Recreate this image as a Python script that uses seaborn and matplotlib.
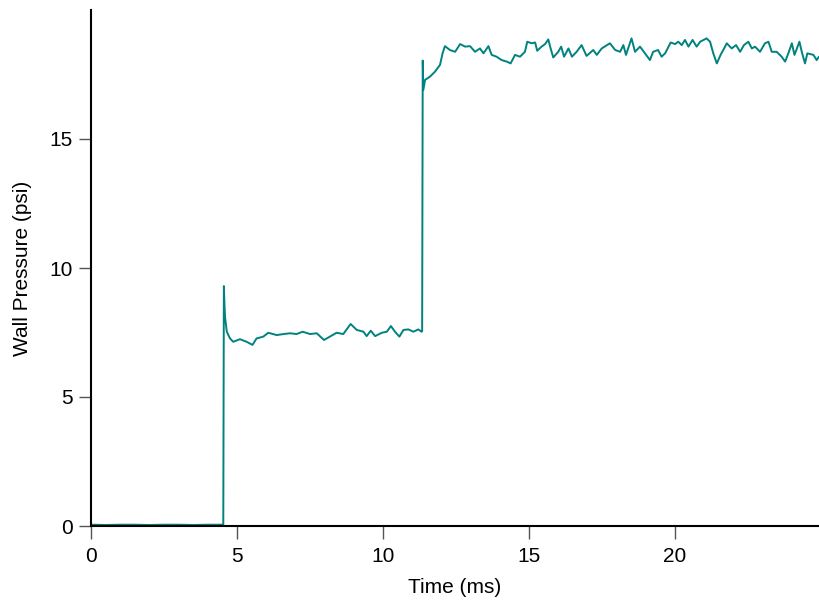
import matplotlib
matplotlib.use("Agg")
import matplotlib.pyplot as plt
import seaborn as sns
import pandas as pd
import numpy as np

# Time (ms) and wall pressure (psi)
time_ms = [
    0.00, 0.50, 1.00, 1.50, 2.00, 2.50, 3.00, 3.50, 4.00, 4.53,
    4.55, 4.57, 4.59, 4.65, 4.76, 4.87, 5.10, 5.33, 5.53, 5.67, 5.90,
    6.07, 6.36, 6.59, 6.82, 7.04, 7.25, 7.50, 7.73, 7.98, 8.18, 8.41,
    8.64, 8.89, 9.10, 9.33, 9.44, 9.58, 9.73, 9.96, 10.13, 10.27, 10.41,
    10.56, 10.70, 10.87, 11.04, 11.21, 11.32, 11.34,
    11.36, 11.38, 11.44, 11.61, 11.78, 11.95, 12.04, 12.12, 12.29, 12.47,
    12.64, 12.81, 12.98, 13.15, 13.32, 13.44, 13.61, 13.72, 13.89, 14.06,
    14.24, 14.37, 14.52, 14.69, 14.86, 14.94, 15.09, 15.21, 15.28, 15.43,
    15.55, 15.66, 15.74, 15.83, 16.00, 16.10, 16.20, 16.35, 16.47, 16.63,
    16.80, 16.97, 17.20, 17.32, 17.49, 17.77, 17.95, 18.12, 18.23, 18.32,
    18.51, 18.63, 18.80, 18.97, 19.14, 19.25, 19.42, 19.54, 19.66, 19.85,
    20.00, 20.11, 20.23, 20.34, 20.46, 20.60, 20.74, 20.86, 21.08, 21.20,
    21.31, 21.43, 21.56, 21.68, 21.77, 21.94, 22.09, 22.23, 22.36, 22.51,
    22.63, 22.74, 22.91, 23.08, 23.20, 23.31, 23.48, 23.65, 23.77, 23.88,
    24.00, 24.09, 24.26, 24.34, 24.45, 24.53, 24.74, 24.85, 24.93,
]
pressure_psi = [
    0.05, 0.04, 0.05, 0.05, 0.04, 0.05, 0.05, 0.04, 0.05, 0.05,
    9.30, 8.60, 8.11, 7.53, 7.27, 7.14, 7.24, 7.14, 7.02, 7.27, 7.34,
    7.49, 7.40, 7.44, 7.47, 7.44, 7.53, 7.44, 7.47, 7.21, 7.34, 7.49,
    7.44, 7.83, 7.60, 7.53, 7.36, 7.57, 7.36, 7.49, 7.53, 7.75, 7.53,
    7.34, 7.60, 7.62, 7.53, 7.62, 7.53, 7.55,
    18.04, 16.90, 17.29, 17.42, 17.61, 17.87, 18.32, 18.60, 18.45, 18.38,
    18.68, 18.58, 18.60, 18.38, 18.51, 18.32, 18.60, 18.26, 18.19, 18.06,
    18.00, 17.93, 18.26, 18.19, 18.38, 18.77, 18.71, 18.74, 18.42, 18.58,
    18.68, 18.86, 18.51, 18.16, 18.38, 18.58, 18.19, 18.51, 18.19, 18.38,
    18.64, 18.22, 18.45, 18.26, 18.51, 18.71, 18.45, 18.38, 18.64, 18.26,
    18.90, 18.38, 18.58, 18.32, 18.06, 18.38, 18.45, 18.19, 18.32, 18.74,
    18.68, 18.77, 18.64, 18.84, 18.58, 18.84, 18.58, 18.77, 18.90, 18.77,
    18.32, 17.93, 18.26, 18.51, 18.71, 18.51, 18.64, 18.38, 18.64, 18.77,
    18.51, 18.58, 18.38, 18.71, 18.77, 18.38, 18.38, 18.19, 18.00, 18.32,
    18.71, 18.26, 18.77, 18.38, 17.93, 18.32, 18.26, 18.06, 18.19,
]

x_ticks = [0, 5, 10, 15, 20]
y_ticks = [0, 5, 10, 15]

df = pd.DataFrame({"Time (ms)": time_ms, "Wall Pressure (psi)": pressure_psi})

sns.set_style("ticks")
plt.rcParams["font.family"] = ["Liberation Sans", "DejaVu Sans"]

fig = plt.figure(figsize=(8.19, 6.04), dpi=100)
ax = fig.add_axes([91 / 819, 78 / 604, 1 - 91 / 819, (526 - 10) / 604])

sns.lineplot(data=df, x="Time (ms)", y="Wall Pressure (psi)", ax=ax,
             color="#00827f", linewidth=1.4, sort=False, estimator=None)

ax.set_xlim(0, 24.93)
ax.set_ylim(0, 20.0)
ax.set_xticks(x_ticks)
ax.set_yticks(y_ticks)
ax.set_xlabel("Time (ms)", fontsize=15, color="black", labelpad=9)
ax.set_ylabel("Wall Pressure (psi)", fontsize=15, color="black", labelpad=13)

for s in ["top", "right"]:
    ax.spines[s].set_visible(False)
for s in ["left", "bottom"]:
    ax.spines[s].set_color("black")
    ax.spines[s].set_linewidth(1.5)

ax.tick_params(axis="x", direction="out", length=9, width=1.0,
               color="#555555", labelsize=15, labelcolor="black", pad=6)
ax.tick_params(axis="y", direction="out", length=9, width=1.0,
               color="#555555", labelsize=15, labelcolor="black", pad=4)

fig.savefig("out.png", dpi=100)
